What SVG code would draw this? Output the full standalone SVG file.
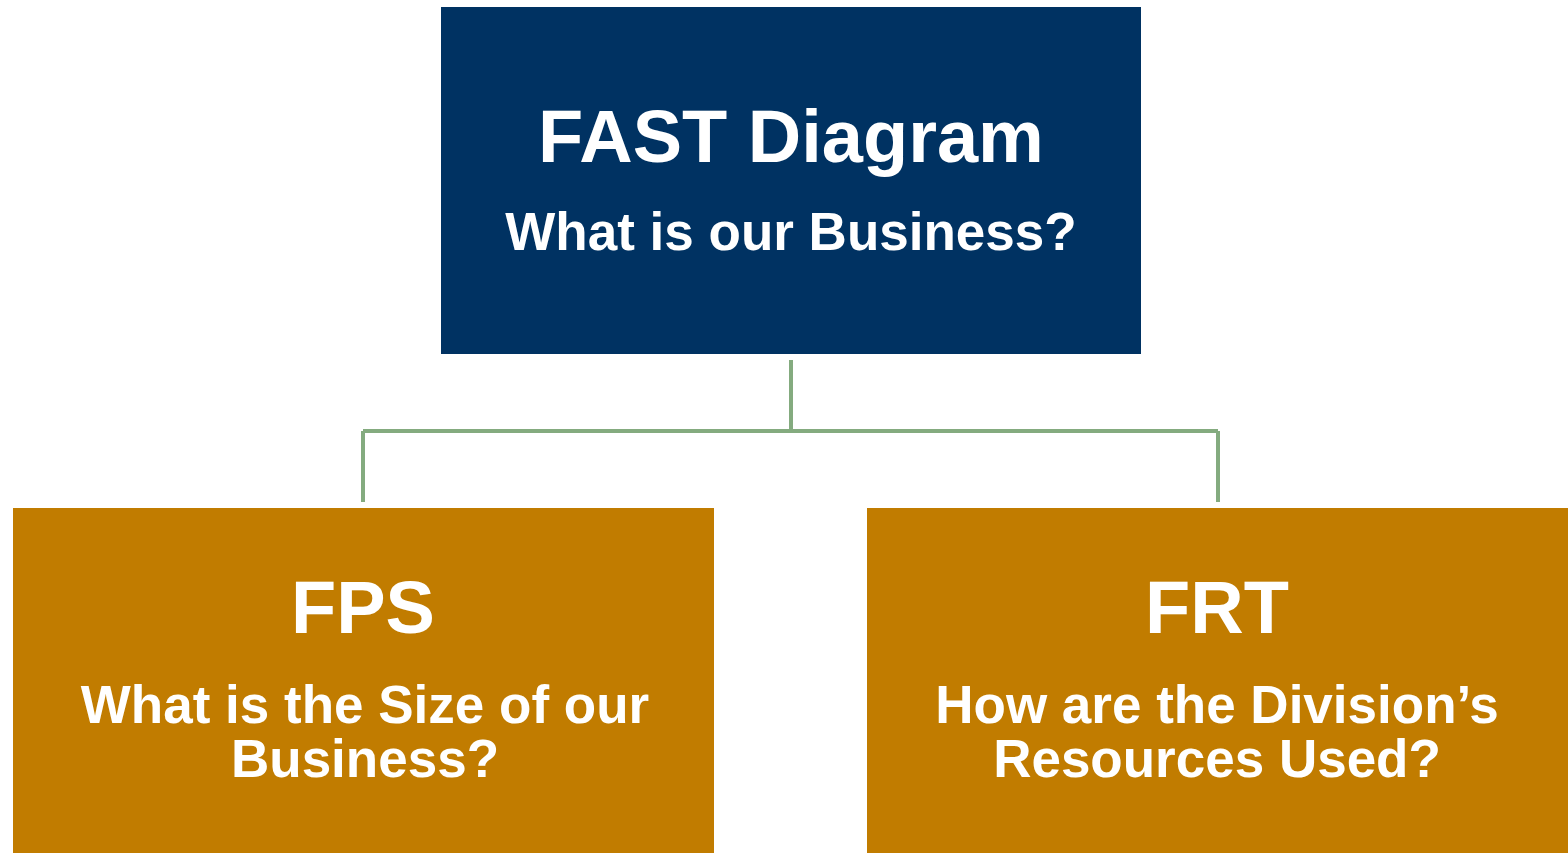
<svg xmlns="http://www.w3.org/2000/svg" width="1568" height="853" viewBox="0 0 1568 853">
<style>
.t{font-family:"Liberation Sans",Arial,sans-serif;font-weight:bold;fill:#ffffff;text-anchor:middle}
.big{font-size:74px}
.sub{font-size:53px}
.conn{fill:none;stroke:#84AB7F;stroke-width:4}
</style>
<rect width="1568" height="853" fill="#ffffff"/>
<g id="connectors">
<path class="conn" d="M791 360 V431 M363 431 H1218 M363 431 V502 M1218 431 V502"/>
</g>
<g id="fast">
<rect x="441" y="7" width="700" height="347" fill="#003262"/>
<text class="t big" x="791" y="162">FAST Diagram</text>
<text class="t sub" x="791" y="250">What is our Business?</text>
</g>
<g id="fps">
<rect x="13" y="508" width="701" height="350" fill="#C17C00"/>
<text class="t big" x="363" y="633">FPS</text>
<text class="t sub" x="365" y="723">What is the Size of our</text>
<text class="t sub" x="365" y="777">Business?</text>
</g>
<g id="frt">
<rect x="867" y="508" width="701" height="350" fill="#C17C00"/>
<text class="t big" x="1217" y="633">FRT</text>
<text class="t sub" x="1217" y="723">How are the Division’s</text>
<text class="t sub" x="1217" y="777">Resources Used?</text>
</g>
</svg>
